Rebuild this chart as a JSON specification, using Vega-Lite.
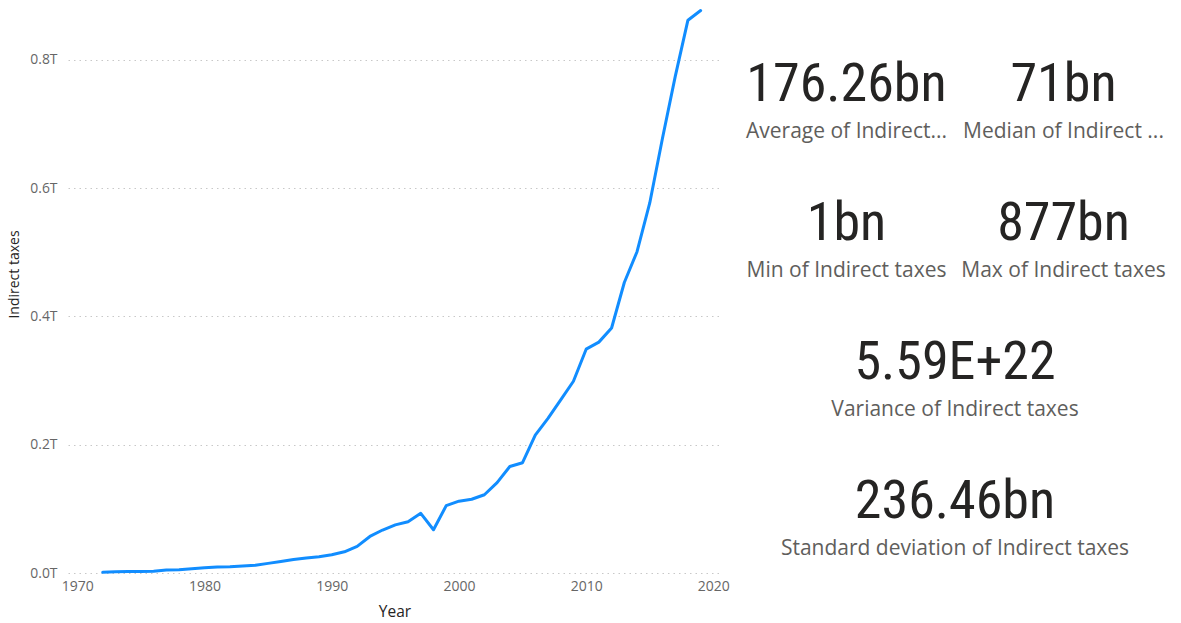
{
  "$schema": "https://vega.github.io/schema/vega-lite/v6.json",
  "padding": {"left": 7, "top": 8, "right": 0, "bottom": 0},
  "background": "#ffffff",
  "bounds": "flush",
  "spacing": 17,
  "config": {
    "view": {"stroke": null},
    "concat": {"spacing": 0},
    "font": "Open Sans"
  },
  "datasets": {
    "series": [
      {"Year": 1972, "Indirect taxes": 1000000000},
      {"Year": 1973, "Indirect taxes": 1800000000},
      {"Year": 1974, "Indirect taxes": 2200000000},
      {"Year": 1975, "Indirect taxes": 2500000000},
      {"Year": 1976, "Indirect taxes": 2800000000},
      {"Year": 1977, "Indirect taxes": 4500000000},
      {"Year": 1978, "Indirect taxes": 5000000000},
      {"Year": 1979, "Indirect taxes": 6500000000},
      {"Year": 1980, "Indirect taxes": 8000000000},
      {"Year": 1981, "Indirect taxes": 9500000000},
      {"Year": 1982, "Indirect taxes": 9800000000},
      {"Year": 1983, "Indirect taxes": 11000000000},
      {"Year": 1984, "Indirect taxes": 12000000000},
      {"Year": 1985, "Indirect taxes": 15000000000},
      {"Year": 1986, "Indirect taxes": 18000000000},
      {"Year": 1987, "Indirect taxes": 21000000000},
      {"Year": 1988, "Indirect taxes": 23500000000},
      {"Year": 1989, "Indirect taxes": 25500000000},
      {"Year": 1990, "Indirect taxes": 28500000000},
      {"Year": 1991, "Indirect taxes": 33000000000},
      {"Year": 1992, "Indirect taxes": 41500000000},
      {"Year": 1993, "Indirect taxes": 57000000000},
      {"Year": 1994, "Indirect taxes": 67000000000},
      {"Year": 1995, "Indirect taxes": 75000000000},
      {"Year": 1996, "Indirect taxes": 80000000000},
      {"Year": 1997, "Indirect taxes": 93000000000},
      {"Year": 1998, "Indirect taxes": 67500000000},
      {"Year": 1999, "Indirect taxes": 105000000000},
      {"Year": 2000, "Indirect taxes": 112000000000},
      {"Year": 2001, "Indirect taxes": 115000000000},
      {"Year": 2002, "Indirect taxes": 122000000000},
      {"Year": 2003, "Indirect taxes": 141000000000},
      {"Year": 2004, "Indirect taxes": 166000000000},
      {"Year": 2005, "Indirect taxes": 172000000000},
      {"Year": 2006, "Indirect taxes": 215000000000},
      {"Year": 2007, "Indirect taxes": 241000000000},
      {"Year": 2008, "Indirect taxes": 270000000000},
      {"Year": 2009, "Indirect taxes": 299000000000},
      {"Year": 2010, "Indirect taxes": 349000000000},
      {"Year": 2011, "Indirect taxes": 360000000000},
      {"Year": 2012, "Indirect taxes": 382000000000},
      {"Year": 2013, "Indirect taxes": 453000000000},
      {"Year": 2014, "Indirect taxes": 501000000000},
      {"Year": 2015, "Indirect taxes": 577000000000},
      {"Year": 2016, "Indirect taxes": 678000000000},
      {"Year": 2017, "Indirect taxes": 774000000000},
      {"Year": 2018, "Indirect taxes": 862000000000},
      {"Year": 2019, "Indirect taxes": 877000000000}
    ],
    "kpis": [
      {"stat": "Average", "value": "176.26bn", "label": "Average of Indirect..."},
      {"stat": "Median", "value": "71bn", "label": "Median of Indirect ..."},
      {"stat": "Min", "value": "1bn", "label": "Min of Indirect taxes"},
      {"stat": "Max", "value": "877bn", "label": "Max of Indirect taxes"},
      {"stat": "Variance", "value": "5.59E+22", "label": "Variance of Indirect taxes"},
      {"stat": "Standard deviation", "value": "236.46bn", "label": "Standard deviation of Indirect taxes"}
    ]
  },
  "hconcat": [
    {
      "width": 653,
      "height": 565,
      "data": {"name": "series"},
      "mark": {"type": "line", "color": "#118DFF", "strokeWidth": 3, "strokeJoin": "round", "strokeCap": "round"},
      "encoding": {
        "x": {
          "field": "Year",
          "type": "quantitative",
          "scale": {"domain": [1969.27, 2020.6], "nice": false, "zero": false},
          "axis": {
            "values": [1970, 1980, 1990, 2000, 2010, 2020],
            "format": "d",
            "grid": false,
            "domain": false,
            "ticks": false,
            "tickSize": 0,
            "labelPadding": 6,
            "labelFont": "Open Sans",
            "labelFontSize": 14,
            "labelColor": "#666666",
            "title": "Year",
            "titleFont": "Open Sans",
            "titleFontSize": 15.5,
            "titleFontWeight": "normal",
            "titleColor": "#252423",
            "titlePadding": 11
          }
        },
        "y": {
          "field": "Indirect taxes",
          "type": "quantitative",
          "scale": {"domain": [0, 881000000000], "nice": false},
          "axis": {
            "values": [0, 200000000000, 400000000000, 600000000000, 800000000000],
            "labelExpr": "format(datum.value / 1e12, '.1f') + 'T'",
            "grid": true,
            "gridColor": "#C8C8C8",
            "gridDash": [1.5, 4],
            "gridWidth": 1,
            "domain": false,
            "ticks": false,
            "tickSize": 0,
            "labelPadding": 11,
            "labelFont": "Open Sans",
            "labelFontSize": 13.9,
            "labelColor": "#666666",
            "title": "Indirect taxes",
            "titleFont": "Open Sans",
            "titleFontSize": 14,
            "titleFontWeight": "normal",
            "titleColor": "#252423",
            "titlePadding": 8,
            "titleY": 266
          }
        }
      }
    },
    {
      "data": {"name": "kpis"},
      "spacing": 0,
      "vconcat": [
        {
          "spacing": 0,
          "hconcat": [
            {
              "width": 217, "height": 139,
              "transform": [{"filter": "datum.stat === 'Average'"}],
              "layer": [
                {"mark": {"type": "text", "font": "Roboto Condensed", "fontSize": 54, "color": "#252423", "baseline": "middle", "dy": 7}, "encoding": {"text": {"field": "value"}}},
                {"mark": {"type": "text", "font": "Open Sans", "fontSize": 21, "color": "#605E5C", "baseline": "middle", "dy": 54}, "encoding": {"text": {"field": "label"}}}
              ]
            },
            {
              "width": 217, "height": 139,
              "transform": [{"filter": "datum.stat === 'Median'"}],
              "layer": [
                {"mark": {"type": "text", "font": "Roboto Condensed", "fontSize": 54, "color": "#252423", "baseline": "middle", "dy": 7}, "encoding": {"text": {"field": "value"}}},
                {"mark": {"type": "text", "font": "Open Sans", "fontSize": 21, "color": "#605E5C", "baseline": "middle", "dy": 54}, "encoding": {"text": {"field": "label"}}}
              ]
            }
          ]
        },
        {
          "spacing": 0,
          "hconcat": [
            {
              "width": 217, "height": 139,
              "transform": [{"filter": "datum.stat === 'Min'"}],
              "layer": [
                {"mark": {"type": "text", "font": "Roboto Condensed", "fontSize": 54, "color": "#252423", "baseline": "middle", "dy": 7}, "encoding": {"text": {"field": "value"}}},
                {"mark": {"type": "text", "font": "Open Sans", "fontSize": 21, "color": "#605E5C", "baseline": "middle", "dy": 54}, "encoding": {"text": {"field": "label"}}}
              ]
            },
            {
              "width": 217, "height": 139,
              "transform": [{"filter": "datum.stat === 'Max'"}],
              "layer": [
                {"mark": {"type": "text", "font": "Roboto Condensed", "fontSize": 54, "color": "#252423", "baseline": "middle", "dy": 7}, "encoding": {"text": {"field": "value"}}},
                {"mark": {"type": "text", "font": "Open Sans", "fontSize": 21, "color": "#605E5C", "baseline": "middle", "dy": 54}, "encoding": {"text": {"field": "label"}}}
              ]
            }
          ]
        },
        {
          "width": 434, "height": 139,
          "transform": [{"filter": "datum.stat === 'Variance'"}],
          "layer": [
            {"mark": {"type": "text", "font": "Roboto Condensed", "fontSize": 54, "color": "#252423", "baseline": "middle", "dy": 7}, "encoding": {"text": {"field": "value"}}},
            {"mark": {"type": "text", "font": "Open Sans", "fontSize": 21, "color": "#605E5C", "baseline": "middle", "dy": 54}, "encoding": {"text": {"field": "label"}}}
          ]
        },
        {
          "width": 434, "height": 139,
          "transform": [{"filter": "datum.stat === 'Standard deviation'"}],
          "layer": [
            {"mark": {"type": "text", "font": "Roboto Condensed", "fontSize": 54, "color": "#252423", "baseline": "middle", "dy": 7}, "encoding": {"text": {"field": "value"}}},
            {"mark": {"type": "text", "font": "Open Sans", "fontSize": 21, "color": "#605E5C", "baseline": "middle", "dy": 54}, "encoding": {"text": {"field": "label"}}}
          ]
        }
      ]
    }
  ]
}
